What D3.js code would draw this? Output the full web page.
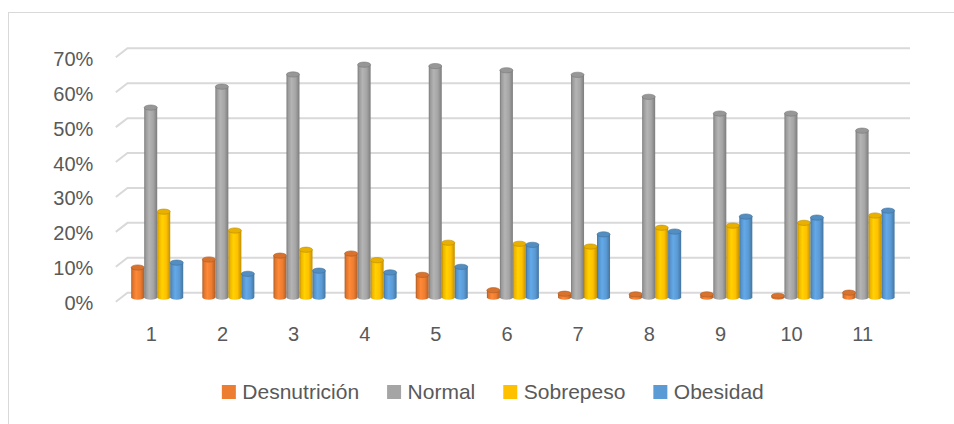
<!DOCTYPE html>
<html>
<head>
<meta charset="utf-8">
<script src="https://cdn.jsdelivr.net/npm/d3@7"></script>
<style>
  html, body { margin: 0; padding: 0; background: #fff; }
  svg { display: block; }
  text { font-family: "Liberation Sans", Arial, sans-serif; fill: #595959; }
</style>
</head>
<body>
<svg id="chart" width="954" height="424"></svg>
<script>
// ---- data ----
const categories = ["1","2","3","4","5","6","7","8","9","10","11"];
const seriesNames = ["Desnutrición","Normal","Sobrepeso","Obesidad"];
const desnutricion = [0.085, 0.108, 0.119, 0.125, 0.064, 0.020, 0.010, 0.008, 0.008, 0.004, 0.013];
const normal       = [0.543, 0.603, 0.638, 0.666, 0.662, 0.650, 0.637, 0.574, 0.526, 0.526, 0.477];
const sobrepeso    = [0.245, 0.191, 0.136, 0.106, 0.156, 0.153, 0.145, 0.199, 0.205, 0.213, 0.234];
const obesidad     = [0.099, 0.067, 0.076, 0.071, 0.087, 0.150, 0.180, 0.188, 0.231, 0.228, 0.248];
const yTicks = [0, 0.1, 0.2, 0.3, 0.4, 0.5, 0.6, 0.7];
const seriesColors = ["#ED7D31", "#A5A5A5", "#FFC000", "#5B9BD5"];

const seriesValues = [desnutricion, normal, sobrepeso, obesidad];

const svg = d3.select("#chart");
svg.append("rect").attr("width", 954).attr("height", 424).attr("fill", "#fff");

// chart border
svg.append("rect")
  .attr("x", 8.5).attr("y", 12.5).attr("width", 960).attr("height", 430)
  .attr("fill", "none").attr("stroke", "#d9d9d9").attr("stroke-width", 1);

// 3D depth offsets
const depthDx = 11.7, depthDy = -9;
const midDx = depthDx / 2, midDy = depthDy / 2;

const x = d3.scaleBand().domain(categories).range([115.8, 898.3]).padding(0);
const y = d3.scaleLinear().domain([0, 0.7]).range([301.7, 57.3]);
const inner = d3.scaleBand().domain(seriesNames).range([-26, 26]).padding(0);

// gridlines (floor edge + back wall)
const grid = svg.append("g");
yTicks.forEach(t => {
  const yf = y(t);
  const x0 = x.range()[0], x1 = x.range()[1];
  grid.append("path")
    .attr("d", `M${x0},${yf} L${x0 + depthDx},${yf + depthDy} L${x1 + depthDx},${yf + depthDy}`)
    .attr("fill", "none").attr("stroke", "#d9d9d9").attr("stroke-width", 2);
});

// y labels
const yFmt = d3.format(".0%");
svg.append("g").selectAll("text").data(yTicks).join("text")
  .attr("x", 93.3).attr("y", d => y(d) + 8.5)
  .attr("text-anchor", "end").attr("font-size", 20)
  .text(d => yFmt(d));

// x labels
svg.append("g").selectAll("text").data(categories).join("text")
  .attr("x", d => x(d) + x.bandwidth() / 2).attr("y", 340.5)
  .attr("text-anchor", "middle").attr("font-size", 20)
  .text(d => d);

// gradients
const defs = svg.append("defs");
seriesColors.forEach((c, i) => {
  const base = d3.color(c);
  const g = defs.append("linearGradient").attr("id", "grad" + i)
    .attr("x1", 0).attr("x2", 1).attr("y1", 0).attr("y2", 0);
  g.append("stop").attr("offset", "0%").attr("stop-color", base.darker(0.9));
  g.append("stop").attr("offset", "12%").attr("stop-color", base.darker(0.2));
  g.append("stop").attr("offset", "38%").attr("stop-color", base.brighter(0.25));
  g.append("stop").attr("offset", "70%").attr("stop-color", base);
  g.append("stop").attr("offset", "100%").attr("stop-color", base.darker(0.8));
});

// cylinders
const rx = inner.bandwidth() / 2, ry = 2.6;
const bars = svg.append("g");
categories.forEach((cat, ci) => {
  seriesNames.forEach((s, si) => {
    const v = seriesValues[si][ci];
    const cx = x(cat) + x.bandwidth() / 2 + midDx + inner(s) + rx;
    const yBase = y(0) + midDy;
    const yTop = y(v) + midDy;
    const col = d3.color(seriesColors[si]);
    bars.append("path")
      .attr("d", `M${cx - rx},${yTop} L${cx - rx},${yBase} A${rx},${ry} 0 0 0 ${cx + rx},${yBase} L${cx + rx},${yTop} Z`)
      .attr("fill", `url(#grad${si})`);
    bars.append("ellipse")
      .attr("cx", cx).attr("cy", yTop).attr("rx", rx).attr("ry", ry)
      .attr("fill", col.darker(0.25))
      .attr("stroke", col.darker(0.9)).attr("stroke-width", 0.6);
  });
});

// legend
const legend = svg.append("g");
const items = [];
let cursor = 0;
seriesNames.forEach((s, i) => {
  const g = legend.append("g");
  g.append("rect").attr("x", cursor).attr("y", 385).attr("width", 14).attr("height", 14)
    .attr("fill", seriesColors[i]);
  const t = g.append("text").attr("x", cursor + 20.5).attr("y", 399)
    .attr("font-size", 21).text(s);
  const w = t.node().getComputedTextLength();
  cursor += 20.5 + w + 28;
});
const totalW = cursor - 28;
legend.attr("transform", `translate(${492.8 - totalW / 2},0)`);
</script>
</body>
</html>
